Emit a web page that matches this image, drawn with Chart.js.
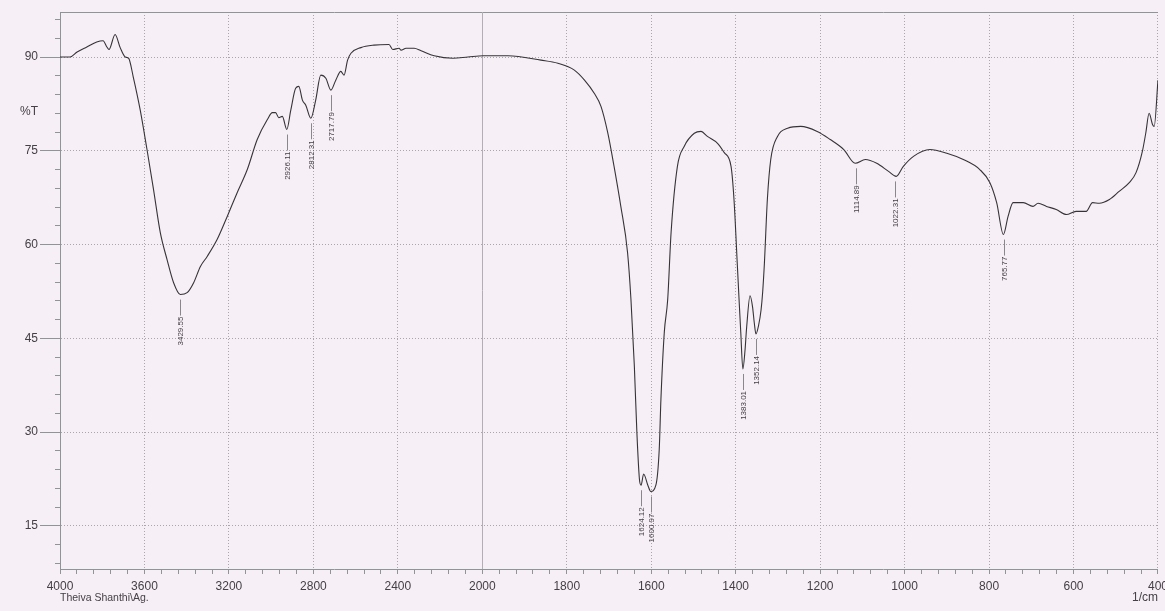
<!DOCTYPE html>
<html>
<head>
<meta charset="utf-8">
<script src="https://cdn.jsdelivr.net/npm/chart.js@4.4.1/dist/chart.umd.min.js"></script>
<style>
  html, body { margin: 0; padding: 0; background: #f6f0f6; overflow: hidden; }
  #wrap { position: relative; width: 1173px; height: 611px; }
</style>
</head>
<body>
<div id="wrap"><canvas id="irChart"></canvas></div>
<script>
// spectrum: wavenumber (1/cm) and transmittance (%T)
var wavenumbers = [
  4000, 3952, 3919, 3873, 3826, 3796, 3778, 3768, 3739, 3715,
  3691, 3675, 3653, 3620, 3588, 3557, 3525, 3493, 3462, 3430,
  3398, 3367, 3335, 3303, 3256, 3208, 3161, 3113, 3066, 3018,
  2994, 2979, 2964, 2947, 2926, 2907, 2884, 2869, 2852, 2836,
  2812, 2789, 2765, 2741, 2717, 2694, 2670, 2655, 2638, 2622,
  2575, 2513, 2442, 2424, 2394, 2385, 2361, 2323, 2290, 2228,
  2139, 2068, 1998, 1939, 1861, 1821, 1782, 1758, 1735, 1719,
  1703, 1688, 1672, 1656, 1648, 1640, 1634, 1628, 1624, 1618,
  1608, 1601, 1589, 1581, 1577, 1569, 1561, 1553, 1538, 1522,
  1498, 1482, 1467, 1443, 1427, 1411, 1404, 1396, 1392, 1388,
  1383, 1378, 1374, 1366, 1360, 1356, 1352, 1346, 1340, 1336,
  1332, 1325, 1317, 1301, 1277, 1246, 1207, 1176, 1144, 1117,
  1093, 1066, 1038, 1020, 1003, 979, 940, 900, 861, 822,
  798, 782, 766, 755, 743, 719, 696, 684, 664, 641,
  617, 594, 570, 555, 539, 515, 492, 468, 452, 437,
  429, 421, 413, 409, 400
];
var transmittance = [
  90.0, 90.0, 90.8, 91.6, 92.4, 92.6, 91.6, 91.2, 93.6, 91.5,
  90.0, 89.8, 86.8, 81.5, 75.2, 68.8, 61.9, 57.6, 53.9, 52.0,
  52.3, 53.9, 56.5, 58.1, 60.8, 64.5, 68.3, 72.0, 76.8, 80.0,
  81.1, 81.1, 80.3, 80.5, 78.4, 81.5, 85.0, 85.3, 83.1, 82.3,
  80.2, 83.1, 87.1, 86.6, 84.7, 86.3, 87.7, 87.1, 89.5, 90.6,
  91.5, 91.9, 92.0, 91.2, 91.4, 91.1, 91.4, 91.4, 91.0, 90.2,
  89.8, 90.0, 90.2, 90.2, 89.5, 89.0, 87.9, 86.3, 84.2, 82.1,
  77.9, 72.5, 66.1, 58.7, 51.2, 40.6, 30.0, 22.5, 21.5, 23.3,
  21.5, 20.5, 21.5, 27.3, 35.3, 46.0, 51.2, 61.9, 72.5, 75.7,
  77.8, 78.1, 77.3, 76.2, 74.7, 72.5, 67.2, 56.6, 51.2, 46.0,
  40.1, 43.0, 46.8, 51.8, 50.0, 47.5, 45.7, 47.0, 49.5, 52.5,
  57.0, 67.2, 73.6, 77.3, 78.6, 78.9, 78.1, 76.8, 75.2, 73.0,
  73.6, 73.0, 71.7, 70.9, 72.5, 74.1, 75.2, 74.6, 73.6, 72.0,
  69.9, 66.7, 61.6, 64.5, 66.7, 66.7, 66.1, 66.6, 66.1, 65.6,
  64.8, 65.3, 65.3, 66.7, 66.6, 67.2, 68.5, 69.9, 71.5, 74.9,
  77.8, 81.0, 79.2, 78.9, 86.3
];

// picked peaks
var peakWavenumbers = [3429.55, 2926.11, 2812.31, 2717.79, 1624.12, 1600.97, 1383.01, 1352.14, 1114.89, 1022.31, 765.77];
var peakTransmittance = [52.0, 78.4, 80.2, 84.7, 21.5, 20.5, 40.1, 45.7, 73.0, 70.9, 61.6];
var peakLabels = ['3429.55', '2926.11', '2812.31', '2717.79', '1624.12', '1600.97', '1383.01', '1352.14', '1114.89', '1022.31', '765.77'];

// axes
var xMajorTicks = [4000, 3600, 3200, 2800, 2400, 2000, 1800, 1600, 1400, 1200, 1000, 800, 600, 400];
var yMajorTicks = [15, 30, 45, 60, 75, 90];
var xMin = 400, xMax = 4000, xSplit = 2000;
var yMin = 8.1, yMax = 97.2;
var xTitle = '1/cm';
var yTitle = '%T';
var operatorText = 'Theiva Shanthi\\Ag.';

// above 2000 1/cm the axis is compressed by half
var splitFrac = ((xMax - xSplit) / 2) / ((xMax - xSplit) / 2 + (xSplit - xMin));

class WavenumberScale extends Chart.LinearScale {
  getPixelForValue(value) {
    var frac;
    if (value >= xSplit) {
      frac = (this.max - value) / (this.max - xSplit) * splitFrac;
    } else {
      frac = splitFrac + (xSplit - value) / (xSplit - this.min) * (1 - splitFrac);
    }
    return this.left + frac * this.width;
  }
  getValueForPixel(pixel) {
    var frac = (pixel - this.left) / this.width;
    if (frac <= splitFrac) return this.max - frac / splitFrac * (this.max - xSplit);
    return xSplit - (frac - splitFrac) / (1 - splitFrac) * (xSplit - this.min);
  }
}
WavenumberScale.id = 'wavenumber';
WavenumberScale.defaults = Chart.LinearScale.defaults;
Chart.register(WavenumberScale);

function xTickList() {
  var list = [];
  for (var v = xMax; v > xSplit; v -= 80) list.push(v);
  for (var w = xSplit; w >= xMin; w -= 40) list.push(w);
  return list;
}
function yMinorList() {
  var list = [];
  for (var v = 9; v <= 96; v += 3) list.push(v);
  return list;
}

var fontFamily = '"Liberation Sans", Arial, sans-serif';
var textColor = '#454045';
var gridColor = '#aba6ad';
var axisColor = '#8f9596';

var irPlugin = {
  id: 'irDecor',
  beforeDatasetsDraw: function(chart) {
    var ctx = chart.ctx, area = chart.chartArea, x = chart.scales.x;
    ctx.save();
    ctx.strokeStyle = axisColor;
    ctx.lineWidth = 1;
    ctx.beginPath();
    ctx.moveTo(area.left, Math.round(area.top) + 0.5);
    ctx.lineTo(area.right, Math.round(area.top) + 0.5);
    ctx.stroke();
    var px = Math.round(x.getPixelForValue(xSplit)) + 0.5;
    ctx.strokeStyle = '#b3adb5';
    ctx.beginPath();
    ctx.moveTo(px, area.top);
    ctx.lineTo(px, area.bottom);
    ctx.stroke();
    ctx.restore();
  },
  afterDatasetsDraw: function(chart) {
    var ctx = chart.ctx, x = chart.scales.x, y = chart.scales.y;
    ctx.save();
    ctx.font = '8px "Liberation Sans Narrow", ' + fontFamily;
    ctx.fillStyle = textColor;
    ctx.strokeStyle = '#8a878c';
    ctx.lineWidth = 1;
    for (var i = 0; i < peakWavenumbers.length; i++) {
      var px = Math.round(x.getPixelForValue(peakWavenumbers[i])) + 0.5;
      var py = y.getPixelForValue(peakTransmittance[i]);
      ctx.beginPath();
      ctx.moveTo(px, py + 5);
      ctx.lineTo(px, py + 21);
      ctx.stroke();
      ctx.save();
      ctx.translate(px, py + 22);
      ctx.rotate(-Math.PI / 2);
      ctx.textAlign = 'right';
      ctx.textBaseline = 'middle';
      ctx.fillText(peakLabels[i], 0, 0);
      ctx.restore();
    }
    ctx.restore();
  },
  afterDraw: function(chart) {
    var ctx = chart.ctx, area = chart.chartArea, y = chart.scales.y;
    ctx.save();
    ctx.fillStyle = textColor;
    ctx.font = '12px ' + fontFamily;
    ctx.textAlign = 'right';
    ctx.textBaseline = 'middle';
    ctx.fillText(yTitle, area.left - 22, y.getPixelForValue(81.2));
    ctx.textBaseline = 'top';
    ctx.fillText(xTitle, area.right, area.bottom + 23);
    ctx.font = '10.5px ' + fontFamily;
    ctx.textAlign = 'left';
    ctx.fillText(operatorText, area.left, area.bottom + 24);
    ctx.restore();
  }
};

var points = wavenumbers.map(function(w, i) { return {x: w, y: transmittance[i]}; });

var ctx = document.getElementById('irChart').getContext('2d');
var chart = new Chart(ctx, {
  type: 'line',
  data: {
    datasets: [{
      label: '%T',
      data: points,
      borderColor: '#363336',
      borderWidth: 1.1,
      pointRadius: 0,
      fill: false,
      cubicInterpolationMode: 'monotone'
    }]
  },
  options: {
    responsive: true,
    maintainAspectRatio: false,
    animation: false,
    layout: { padding: { left: 0, top: 12, right: 15, bottom: 0 } },
    plugins: {
      legend: { display: false },
      tooltip: { enabled: false }
    },
    scales: {
      x: {
        type: 'wavenumber',
        min: xMin,
        max: xMax,
        afterBuildTicks: function(axis) {
          axis.ticks = xTickList().map(function(v) { return {value: v}; });
        },
        afterFit: function(axis) { axis.height = 42; },
        ticks: {
          autoSkip: false,
          maxRotation: 0,
          minRotation: 0,
          padding: 5,
          color: textColor,
          font: { family: fontFamily, size: 12 },
          callback: function(value) {
            return xMajorTicks.indexOf(value) >= 0 ? String(value) : '';
          }
        },
        grid: {
          color: function(c) {
            return c.tick && xMajorTicks.indexOf(c.tick.value) >= 0 ? gridColor : 'rgba(0,0,0,0)';
          },
          tickColor: axisColor,
          tickLength: 5,
          lineWidth: 1
        },
        border: { color: axisColor, width: 1, dash: [1, 2] }
      },
      y: {
        type: 'linear',
        position: 'left',
        weight: 1,
        min: yMin,
        max: yMax,
        afterBuildTicks: function(axis) {
          axis.ticks = yMajorTicks.map(function(v) { return {value: v}; });
        },
        afterFit: function(axis) { axis.width = 60; },
        ticks: {
          padding: 2,
          color: textColor,
          font: { family: fontFamily, size: 12 }
        },
        grid: {
          color: gridColor,
          tickColor: axisColor,
          tickLength: 20,
          lineWidth: 1
        },
        border: { color: axisColor, width: 1, dash: [1, 2] }
      },
      y2: {
        type: 'linear',
        position: 'left',
        weight: 0,
        min: yMin,
        max: yMax,
        afterBuildTicks: function(axis) {
          axis.ticks = yMinorList().map(function(v) { return {value: v}; });
        },
        afterFit: function(axis) { axis.width = 0; },
        ticks: { display: false },
        grid: {
          drawOnChartArea: false,
          tickColor: axisColor,
          tickLength: 5
        },
        border: { display: false }
      }
    }
  },
  plugins: [irPlugin]
});
</script>
</body>
</html>
